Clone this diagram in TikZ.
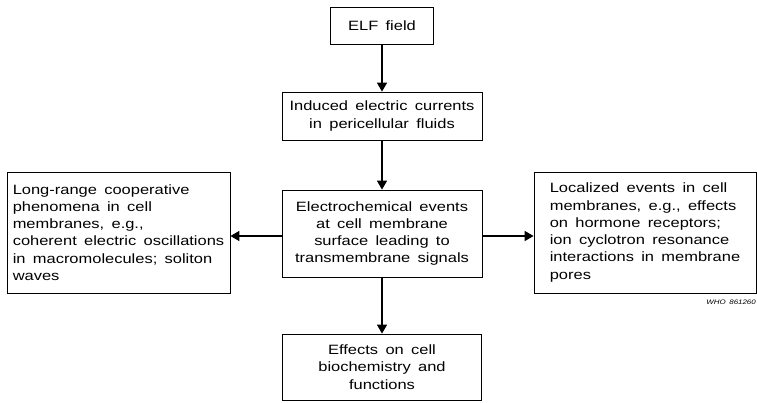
\documentclass[tikz,border=0pt]{standalone}
\usepackage{fontspec}
\setmainfont{Liberation Sans}[FakeStretch=1.22,WordSpace=1.6]
\usetikzlibrary{arrows.meta}

\begin{document}
\begin{tikzpicture}[x=1pt,y=-1pt,font=\fontsize{13.5}{17.3}\selectfont,
    box/.style={draw,line width=0.8pt,inner sep=0pt,align=center},
    arr/.style={line width=1.5pt,-{Triangle[width=10pt,length=9pt]}}]
  \useasboundingbox (0,0) rectangle (757,402);

  \node[box,minimum width=103pt,minimum height=37pt] (elf) at (382,26) {ELF field};
  \node[box,minimum width=200pt,minimum height=48pt] (induced) at (382,116)
    {Induced electric currents\\in pericellular fluids};
  \node[box,minimum width=200pt,minimum height=87pt] (electro) at (382,233.5)
    {Electrochemical events\\at cell membrane\\surface leading to\\transmembrane signals};
  \node[box,minimum width=199pt,minimum height=66pt] (effects) at (382,367)
    {Effects on cell\\biochemistry and\\functions};

  \node[box,align=left,minimum width=223pt,minimum height=121pt] (longrange) at (118.5,232.5)
    {Long-range cooperative\\phenomena in cell\\membranes, e.g.,\\coherent electric oscillations\\in macromolecules; soliton\\waves};
  \node[box,align=left,minimum width=222pt,minimum height=121pt] (localized) at (645,232.5)
    {Localized events in cell\\membranes, e.g., effects\\on hormone receptors;\\ion cyclotron resonance\\interactions in membrane\\pores};

  \node[anchor=north east,inner sep=0pt,font=\fontsize{6.5}{7}\selectfont\itshape] (who) at (756,300) {WHO 861260};

  \draw[arr] (elf) -- (induced);
  \draw[arr] (induced) -- (electro);
  \draw[arr] (electro) -- (effects);
  \draw[arr] ([yshift=-2.5pt]electro.west) -- ([yshift=-2.5pt]electro.west -| longrange.east);
  \draw[arr] ([yshift=-2.5pt]electro.east) -- ([yshift=-2.5pt]electro.east -| localized.west);
\end{tikzpicture}
\end{document}
